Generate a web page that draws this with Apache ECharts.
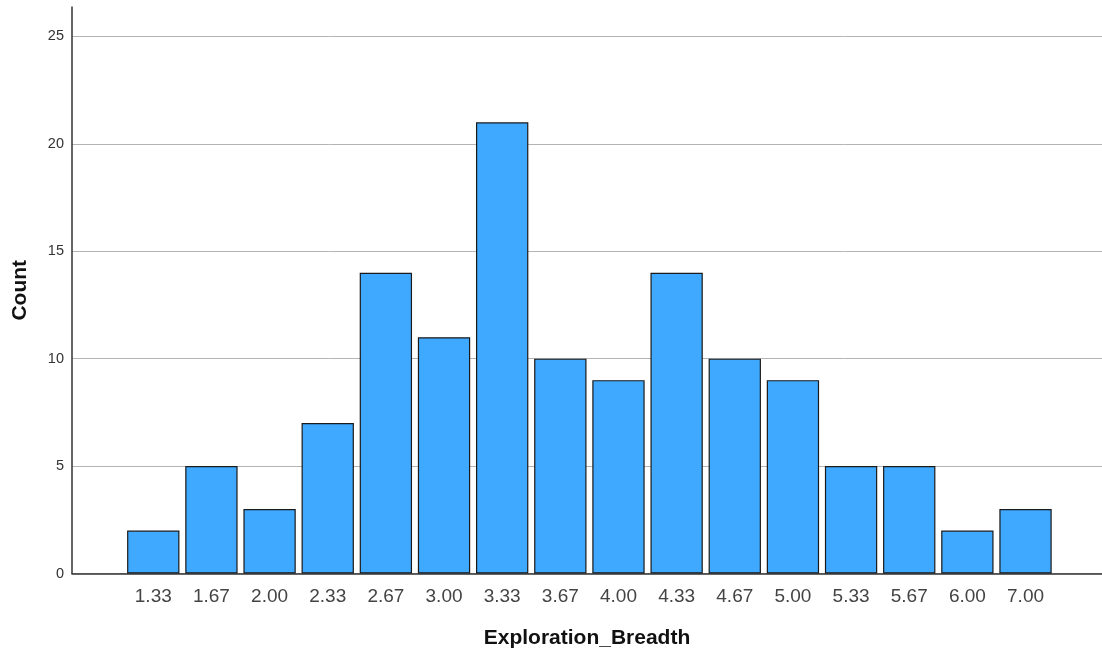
<!DOCTYPE html>
<html><head><meta charset="utf-8">
<script src="https://cdn.jsdelivr.net/npm/echarts@6/dist/echarts.min.js"></script>
<style>html,body{margin:0;padding:0;background:#fff}#c{width:1102px;height:656px}</style>
</head><body><div id="c"></div>
<script>
const categories = ['1.33','1.67','2.00','2.33','2.67','3.00','3.33','3.67','4.00','4.33','4.67','5.00','5.33','5.67','6.00','7.00'];
const counts = [2,5,3,7,14,11,21,10,9,14,10,9,5,5,2,3];
const yTickMax = 25;
const yMax = 26.37;

const chart = echarts.init(document.getElementById('c'), null, {renderer:'canvas'});
const font = 'Liberation Sans, Arial, sans-serif';
const bottom = 82.5;
const topFull = 7;
const topTicks = 7 + (573.5 - 7) * (1 - yTickMax / yMax);
chart.setOption({
  animation:false,
  backgroundColor:'#fff',
  grid:[
    {left:72, right:0, top:topTicks, bottom:bottom},
    {left:124.2, right:47.4, top:topFull, bottom:bottom},
    {left:72, right:0, top:topFull, bottom:bottom}
  ],
  xAxis:[
    {gridIndex:0, type:'value', min:0, max:1, axisLine:{show:true,lineStyle:{color:'#333',width:1.5}},
     axisTick:{show:false}, axisLabel:{show:false}, splitLine:{show:false},
     name:'Exploration_Breadth', nameLocation:'middle', nameGap:54,
     nameTextStyle:{fontFamily:font,fontSize:21,fontWeight:'bold',color:'#111'}},
    {gridIndex:1, type:'category', data:categories, axisLine:{show:false}, axisTick:{show:false},
     axisLabel:{fontFamily:font,fontSize:19,color:'#444',margin:14}},
    {gridIndex:2, type:'value', min:0, max:1, show:false}
  ],
  yAxis:[
    {gridIndex:0, type:'value', min:0, max:yTickMax, interval:5,
     axisLine:{show:false}, axisTick:{show:false},
     axisLabel:{fontFamily:font,fontSize:14.5,color:'#333',margin:8},
     splitLine:{show:true,lineStyle:{color:'#b4b4b4',width:1}}},
    {gridIndex:1, type:'value', min:0, max:yMax, show:false, splitLine:{show:false}},
    {gridIndex:2, type:'value', min:0, max:yMax,
     axisLine:{show:true,lineStyle:{color:'#333',width:1.5}}, axisTick:{show:false},
     axisLabel:{show:false}, splitLine:{show:false},
     name:'Count', nameLocation:'middle', nameGap:41.5, nameRotate:90,
     nameTextStyle:{fontFamily:font,fontSize:21,fontWeight:'bold',color:'#111'}}
  ],
  series:[{
    type:'bar', xAxisIndex:1, yAxisIndex:1, data:counts, barCategoryGap:'10%',
    itemStyle:{color:'#3fa9ff', borderColor:'#1a1a1a', borderWidth:1.2}
  }]
});
</script></body></html>
